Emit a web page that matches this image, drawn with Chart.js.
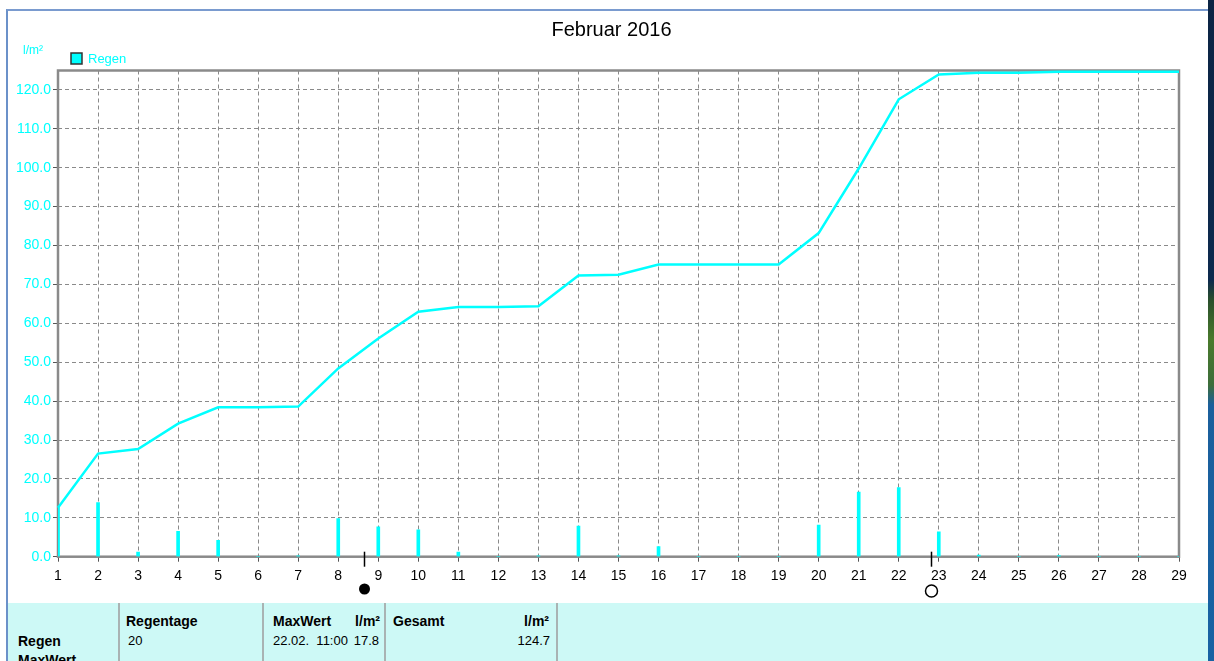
<!DOCTYPE html>
<html>
<head>
<meta charset="utf-8">
<script src="https://cdn.jsdelivr.net/npm/chart.js@4/dist/chart.umd.min.js"></script>
<style>
  body { margin: 0; width: 1214px; height: 661px; overflow: hidden; background: #fff; position: relative; }
  #frame { position: absolute; left: 6px; top: 9px; width: 1202px; height: 652px; border-left: 2px solid #6b91c9; border-top: 2px solid #7a9bcf; box-sizing: border-box; }
  #desk { position: absolute; left: 1208px; top: 0; width: 6px; height: 661px;
    background: linear-gradient(to bottom, #0c2444 0px, #0d2a4e 280px, #2a4f2c 300px, #4a7a2c 340px, #3d6d3a 385px, #1b5f9c 405px, #1762a3 661px); }
  #chart { position: absolute; left: 0; top: 0; }
  #table { position: absolute; left: 8px; top: 603px; width: 1200px; height: 58px; background: #cdf9f6; }
  .sep { position: absolute; top: 603px; width: 2px; height: 58px; background: #a9b3b3; }
  .t { position: absolute; line-height: 1; white-space: pre; color: #000; font-family: "Liberation Sans", Arial, sans-serif; }
  .b { font-weight: bold; font-size: 14px; }
  .n { font-size: 13px; }
  .r { text-align: right; }
</style>
</head>
<body>
<div id="frame"></div>
<div id="desk"></div>
<div id="table"></div>
<div class="sep" style="left:118px"></div>
<div class="sep" style="left:262px"></div>
<div class="sep" style="left:384px"></div>
<div class="sep" style="left:556px"></div>
<canvas id="chart" width="1214" height="600"></canvas>

<span class="t b" style="left:18px; top:634px">Regen</span>
<span class="t b" style="left:18px; top:653px">MaxWert</span>
<span class="t b" style="left:126px; top:614px">Regentage</span>
<span class="t n" id="rainDays" style="left:128px; top:634px"></span>
<span class="t b" style="left:273px; top:614px">MaxWert</span>
<span class="t b r" style="left:330px; width:50px; top:614px">l/m²</span>
<span class="t n" id="maxWhen" style="left:273px; top:634px"></span>
<span class="t n r" id="maxValue" style="left:330px; width:49px; top:634px"></span>
<span class="t b" style="left:393px; top:614px">Gesamt</span>
<span class="t b r" style="left:490px; width:59px; top:614px">l/m²</span>
<span class="t n r" id="total" style="left:490px; width:60px; top:634px"></span>

<script>
const chartTitle = 'Februar 2016';
const unitLabel = 'l/m²';
const seriesName = 'Regen';

// Tage im Februar 2016
const days = [1, 2, 3, 4, 5, 6, 7, 8, 9, 10, 11, 12, 13, 14, 15, 16, 17, 18, 19, 20, 21, 22, 23, 24, 25, 26, 27, 28, 29];

// Tagesniederschlag (Balken), l/m²
const dailyRain = [12.6, 13.9, 1.2, 6.5, 4.2, 0, 0.2, 9.8, 7.7, 6.9, 1.2, 0, 0.2, 7.9, 0.2, 2.6, 0, 0, 0, 8.1, 16.6, 17.8, 6.4, 0.4, 0, 0.3, 0, 0, 0];

// Summenkurve, l/m²
const totalRain = [12.6, 26.5, 27.7, 34.2, 38.4, 38.4, 38.6, 48.4, 56.1, 63.0, 64.2, 64.2, 64.4, 72.3, 72.5, 75.1, 75.1, 75.1, 75.1, 83.2, 99.8, 117.6, 124.0, 124.4, 124.4, 124.7, 124.7, 124.7, 124.7];

// Mondphasen (Tag mit Uhrzeit als Bruchteil)
const moonDays = [8.65, 22.81];
const moonTypes = ['new', 'full'];

// Werte für die Tabelle unten
const rainDayCount = 20;
const maxWhen = '22.02.  11:00';
const maxValue = 17.8;
const totalValue = 124.7;

document.getElementById('rainDays').innerText = rainDayCount;
document.getElementById('maxWhen').innerText = maxWhen;
document.getElementById('maxValue').innerText = maxValue.toFixed(1);
document.getElementById('total').innerText = totalValue.toFixed(1);

const cyan = '#00ffff';
const gridGray = '#8a8a8a';

// Rahmen um die Zeichenfläche (unter den Daten)
const framePlugin = {
  id: 'frame',
  beforeDatasetsDraw(chart) {
    const { ctx, chartArea: a } = chart;
    ctx.save();
    ctx.strokeStyle = gridGray;
    ctx.lineWidth = 2.5;
    ctx.strokeRect(a.left, a.top, a.right - a.left, a.bottom - a.top);
    ctx.restore();
  }
};

// Titel, Legende, Einheit und Mondsymbole
const extrasPlugin = {
  id: 'extras',
  afterDraw(chart) {
    const ctx = chart.ctx;
    const xs = chart.scales.x;
    const bottom = chart.chartArea.bottom;
    ctx.save();

    ctx.fillStyle = '#000';
    ctx.font = '20px "Liberation Sans", Arial, sans-serif';
    ctx.textAlign = 'center';
    ctx.textBaseline = 'middle';
    ctx.fillText(chartTitle, 611.5, 30.5);

    ctx.textAlign = 'left';
    ctx.fillStyle = cyan;
    ctx.font = '12px "Liberation Sans", Arial, sans-serif';
    ctx.fillText(unitLabel, 23, 51);

    ctx.fillRect(71, 53, 11, 11);
    ctx.strokeStyle = '#333';
    ctx.lineWidth = 1.5;
    ctx.strokeRect(71, 53, 11, 11);
    ctx.font = '13px "Liberation Sans", Arial, sans-serif';
    ctx.fillText(seriesName, 88, 59);

    moonDays.forEach((d, i) => {
      const x = Math.round(xs.getPixelForValue(d)) + 0.5;
      ctx.strokeStyle = '#000';
      ctx.lineWidth = 1.5;
      ctx.beginPath();
      ctx.moveTo(x, bottom - 5);
      ctx.lineTo(x, bottom + 10);
      ctx.stroke();
      ctx.beginPath();
      if (moonTypes[i] === 'new') {
        ctx.fillStyle = '#000';
        ctx.arc(x, 589, 5.5, 0, Math.PI * 2);
        ctx.fill();
      } else {
        ctx.arc(x, 591, 6, 0, Math.PI * 2);
        ctx.stroke();
      }
    });
    ctx.restore();
  }
};

new Chart(document.getElementById('chart').getContext('2d'), {
  type: 'bar',
  data: {
    datasets: [
      {
        type: 'line',
        label: seriesName,
        data: days.map((d, i) => ({ x: d, y: totalRain[i] })),
        borderColor: cyan,
        borderWidth: 2.5,
        pointRadius: 0,
        tension: 0,
        fill: false,
        clip: 4
      },
      {
        type: 'bar',
        label: seriesName,
        data: days.map((d, i) => ({ x: d, y: dailyRain[i] })),
        backgroundColor: cyan,
        borderWidth: 0,
        barThickness: 3
      }
    ]
  },
  options: {
    responsive: false,
    animation: false,
    devicePixelRatio: 1,
    layout: { padding: { top: 70.5, right: 35, left: 0, bottom: 0 } },
    plugins: {
      legend: { display: false },
      title: { display: false },
      tooltip: { enabled: false }
    },
    scales: {
      x: {
        type: 'linear',
        min: 1,
        max: 29,
        offset: false,
        afterFit(scale) { scale.height = 43.3; },
        ticks: {
          stepSize: 1,
          includeBounds: false,
          color: '#000',
          padding: 6,
          maxRotation: 0,
          autoSkip: false,
          font: { family: '"Liberation Sans", Arial, sans-serif', size: 14 }
        },
        grid: {
          color: gridGray,
          lineWidth: 1,
          offset: false,
          tickLength: 5,
          tickBorderDash: [],
          tickColor: '#555'
        },
        border: { display: false, dash: [4, 3] }
      },
      y: {
        min: 0,
        max: 125,
        afterFit(scale) { scale.width = 58; },
        ticks: {
          stepSize: 10,
          includeBounds: false,
          color: cyan,
          padding: 2,
          callback: v => v.toFixed(1),
          font: { family: '"Liberation Sans", Arial, sans-serif', size: 14 }
        },
        grid: {
          color: gridGray,
          lineWidth: 1,
          tickLength: 5,
          tickBorderDash: [],
          tickColor: '#555'
        },
        border: { display: false, dash: [4, 3] }
      }
    }
  },
  plugins: [framePlugin, extrasPlugin]
});
</script>
</body>
</html>
